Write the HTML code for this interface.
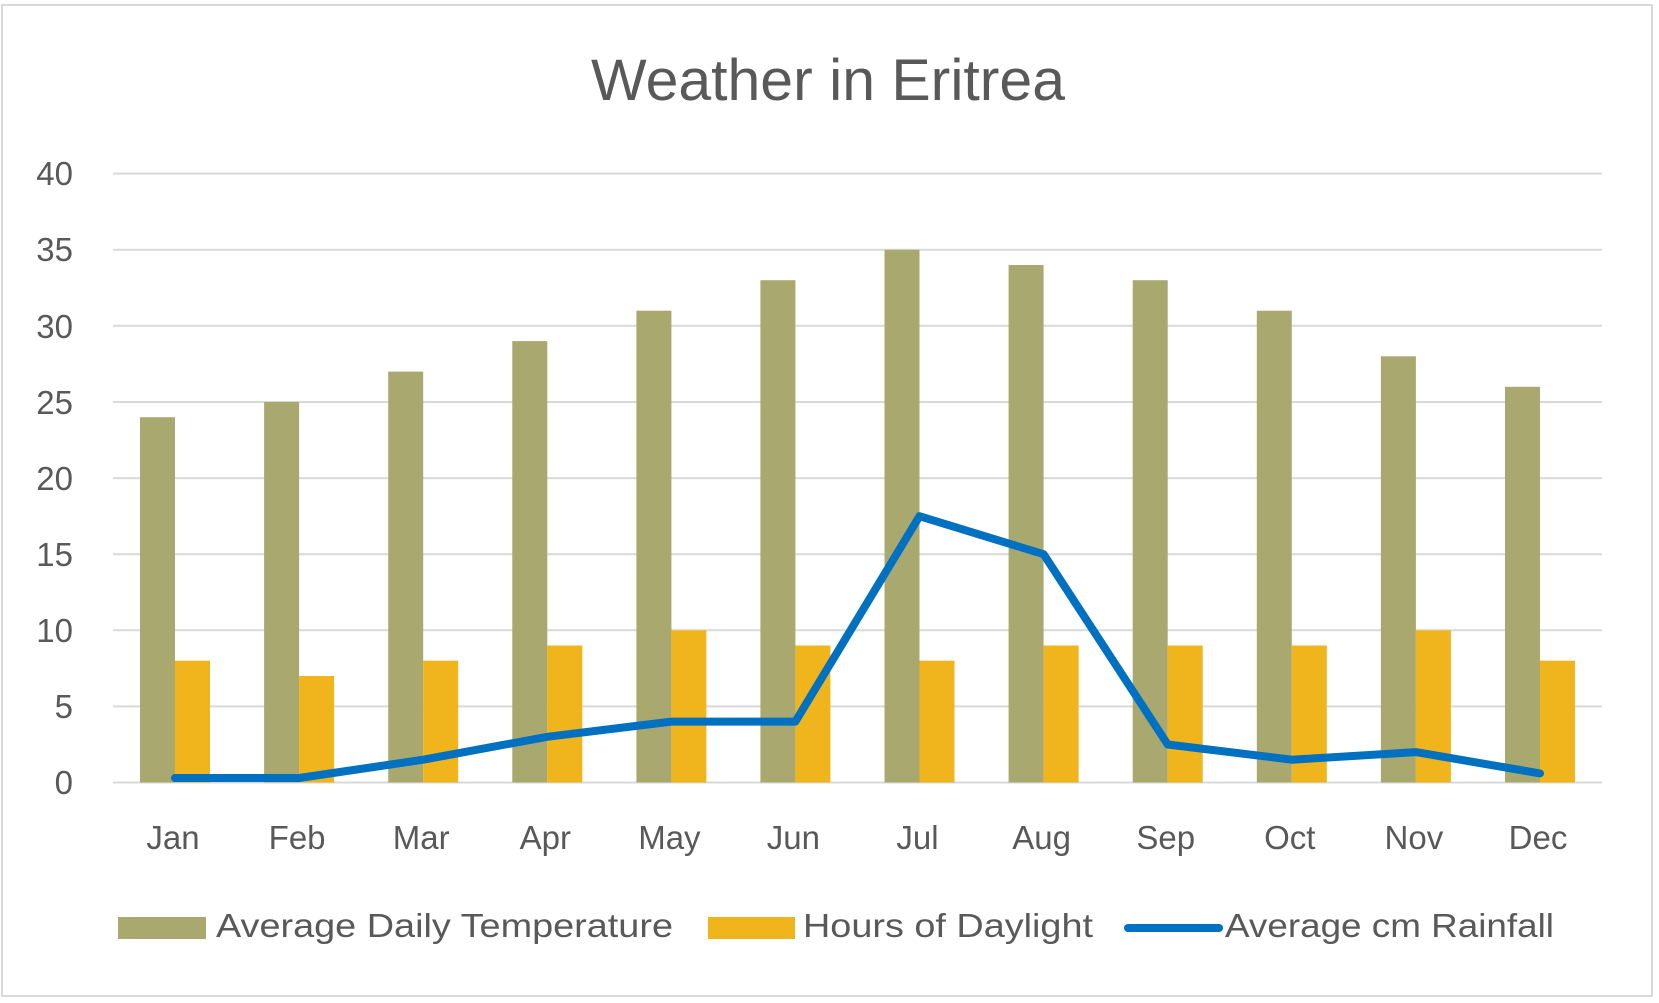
<!DOCTYPE html>
<html><head><meta charset="utf-8"><style>html,body{margin:0;padding:0;background:#fff}svg{display:block}</style></head>
<body>
<svg width="1659" height="1003" viewBox="0 0 1659 1003" xmlns="http://www.w3.org/2000/svg" font-family="Liberation Sans, sans-serif" fill="#595959">
<rect x="2" y="5" width="1650" height="991" fill="#fff" stroke="#d9d9d9" stroke-width="2"/>
<text x="828" y="100" font-size="58" text-anchor="middle" textLength="474" lengthAdjust="spacingAndGlyphs">Weather in Eritrea</text>
<g stroke="#d9d9d9" stroke-width="2">
<line x1="113" x2="1602" y1="782.5" y2="782.5"/><line x1="113" x2="1602" y1="706.4" y2="706.4"/><line x1="113" x2="1602" y1="630.3" y2="630.3"/><line x1="113" x2="1602" y1="554.2" y2="554.2"/><line x1="113" x2="1602" y1="478.1" y2="478.1"/><line x1="113" x2="1602" y1="402" y2="402"/><line x1="113" x2="1602" y1="325.8" y2="325.8"/><line x1="113" x2="1602" y1="249.7" y2="249.7"/><line x1="113" x2="1602" y1="173.6" y2="173.6"/>
</g>
<g font-size="33" text-anchor="end">
<text x="73" y="794">0</text><text x="73" y="718">5</text><text x="73" y="642">10</text><text x="73" y="566">15</text><text x="73" y="490">20</text><text x="73" y="414">25</text><text x="73" y="338">30</text><text x="73" y="261">35</text><text x="73" y="185">40</text>
</g>
<g fill="#a9a96f">
<rect x="140" y="417.2" width="35" height="365.3"/><rect x="264.1" y="402" width="35" height="380.5"/><rect x="388.2" y="371.6" width="35" height="410.9"/><rect x="512.3" y="341.1" width="35" height="441.4"/><rect x="636.4" y="310.7" width="35" height="471.8"/><rect x="760.4" y="280.2" width="35" height="502.3"/><rect x="884.5" y="249.8" width="35" height="532.7"/><rect x="1008.6" y="265" width="35" height="517.5"/><rect x="1132.7" y="280.2" width="35" height="502.3"/><rect x="1256.8" y="310.7" width="35" height="471.8"/><rect x="1380.9" y="356.3" width="35" height="426.2"/><rect x="1505" y="386.8" width="35" height="395.7"/>
</g>
<g fill="#f0b41c">
<rect x="175" y="660.7" width="35" height="121.8"/><rect x="299.1" y="676" width="35" height="106.5"/><rect x="423.2" y="660.7" width="35" height="121.8"/><rect x="547.3" y="645.5" width="35" height="137"/><rect x="671.4" y="630.3" width="35" height="152.2"/><rect x="795.4" y="645.5" width="35" height="137"/><rect x="919.5" y="660.7" width="35" height="121.8"/><rect x="1043.6" y="645.5" width="35" height="137"/><rect x="1167.7" y="645.5" width="35" height="137"/><rect x="1291.8" y="645.5" width="35" height="137"/><rect x="1415.9" y="630.3" width="35" height="152.2"/><rect x="1540" y="660.7" width="35" height="121.8"/>
</g>
<polyline fill="none" stroke="#0070c0" stroke-width="8" stroke-linecap="round" stroke-linejoin="round" points="175,778 299.1,778 423.2,759.7 547.3,736.8 671.4,721.6 795.4,721.6 919.5,516.2 1043.6,554.2 1167.7,744.5 1291.8,759.7 1415.9,752.1 1540,773.4"/>
<g font-size="33" text-anchor="middle">
<text x="173" y="849">Jan</text><text x="297.1" y="849">Feb</text><text x="421.2" y="849">Mar</text><text x="545.3" y="849">Apr</text><text x="669.4" y="849">May</text><text x="793.4" y="849">Jun</text><text x="917.5" y="849">Jul</text><text x="1041.6" y="849">Aug</text><text x="1165.7" y="849">Sep</text><text x="1289.8" y="849">Oct</text><text x="1413.9" y="849">Nov</text><text x="1538" y="849">Dec</text>
</g>
<rect x="118" y="917" width="88" height="22" fill="#a9a96f"/>
<text x="216" y="937" font-size="33" textLength="457" lengthAdjust="spacingAndGlyphs">Average Daily Temperature</text>
<rect x="708" y="917" width="87" height="22" fill="#f0b41c"/>
<text x="803" y="937" font-size="33" textLength="290" lengthAdjust="spacingAndGlyphs">Hours of Daylight</text>
<line x1="1128" x2="1219" y1="928" y2="928" stroke="#0070c0" stroke-width="8" stroke-linecap="round"/>
<text x="1225" y="937" font-size="33" textLength="329" lengthAdjust="spacingAndGlyphs">Average cm Rainfall</text>
</svg>
</body></html>
